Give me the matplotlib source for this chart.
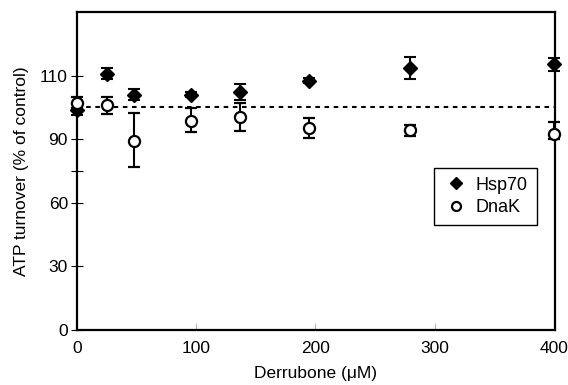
import numpy as np
import matplotlib
matplotlib.use('Agg')
from matplotlib import pyplot as plt

# Derrubone concentrations (uM)
conc = [0, 25, 48, 96, 137, 195, 279, 400]

hsp70 = [99.3, 110.6, 104.0, 103.9, 104.9, 108.4, 112.4, 113.5]
hsp70_err = [1.6, 1.7, 1.8, 0.8, 2.5, 0.8, 3.5, 2.0]

dnak = [101.5, 100.6, 88.9, 95.6, 97.0, 93.5, 92.8, 91.7]
dnak_err_lo = [1.8, 2.8, 12.2, 3.5, 4.3, 3.0, 1.8, 1.7]
dnak_err_hi = [1.8, 2.8, 9.4, 4.2, 4.3, 3.0, 1.8, 3.6]

y_ticks = [0, 30, 60, 75, 90, 110]
y_tick_labels = ['0', '30', '60', '', '90', '110']
x_ticks = [0, 100, 200, 300, 400]

# the y axis is stretched above 90 (90..110 takes as much room as 60..90)
BREAK = 90.0
STRETCH = 1.5


def forward(y):
    y = np.asarray(y, dtype=float)
    return np.where(y <= BREAK, y, BREAK + (y - BREAK) * STRETCH)


def inverse(t):
    t = np.asarray(t, dtype=float)
    return np.where(t <= BREAK, t, BREAK + (t - BREAK) / STRETCH)


def main():
    plt.rcParams['font.family'] = ['Liberation Sans', 'DejaVu Sans']

    fig = plt.figure(figsize=(5.68, 3.85), dpi=100)
    ax = fig.add_axes([0.1356, 0.1429, 0.977 - 0.1356, 0.969 - 0.1429])
    ax.set_yscale('function', functions=(forward, inverse))

    ax.axhline(100, color='black', lw=1.5, ls=(0, (2.2, 2.2)), zorder=1)

    eb1 = ax.errorbar(conc, hsp70, yerr=hsp70_err, fmt='D', color='black', ms=7.5,
                      mfc='black', mec='black', ecolor='black', elinewidth=1.5,
                      capsize=4, capthick=1.5, label='Hsp70', zorder=3, clip_on=False)
    eb2 = ax.errorbar(conc, dnak, yerr=[dnak_err_lo, dnak_err_hi], fmt='o', color='black',
                      ms=8, mfc='white', mec='black', mew=1.6, ecolor='black',
                      elinewidth=1.5, capsize=4, capthick=1.5, label='DnaK', zorder=4,
                      clip_on=False)

    ax.set_xlim(0, 401)
    ax.set_ylim(0, 130)
    ax.set_xticks(x_ticks)
    ax.set_yticks(y_ticks)
    ax.set_yticklabels(y_tick_labels)
    ax.minorticks_off()

    ax.tick_params(axis='y', direction='inout', length=9, width=0.8,
                   labelsize=12.5, pad=2)
    ax.tick_params(axis='x', direction='in', length=5, width=0.8,
                   color='#bbbbbb', labelcolor='black', labelsize=12.5, pad=8)

    for side in ['left', 'right', 'top', 'bottom']:
        ax.spines[side].set_linewidth(1.6)

    ax.set_xlabel('Derrubone (\u03bcM)', fontsize=12.5, labelpad=7)
    ax.set_ylabel('ATP turnover (% of control)', fontsize=12.5, labelpad=8)

    leg = ax.legend(handles=[eb1[0], eb2[0]], labels=['Hsp70', 'DnaK'],
                    loc='upper right', bbox_to_anchor=(0.962, 0.51),
                    borderaxespad=0, fancybox=False, edgecolor='black',
                    framealpha=1, fontsize=13, handletextpad=0.4, borderpad=0.5,
                    handlelength=1.4, labelspacing=0.3)
    leg.get_frame().set_linewidth(1.0)
    for h in leg.legend_handles:
        h.set_markersize(6.5)

    fig.savefig('out.png', dpi=100)


if __name__ == '__main__':
    main()
